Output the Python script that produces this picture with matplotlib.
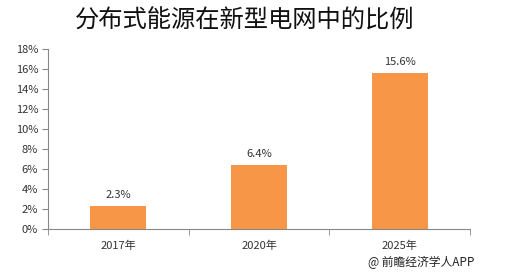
import matplotlib.pyplot as plt
import numpy as np

plt.rcParams['font.family'] = ['Noto Sans CJK SC', 'DejaVu Sans']

years = ['2017年', '2020年', '2025年']
shares = [2.3, 6.4, 15.6]
labels = ['2.3%', '6.4%', '15.6%']
yticks = [0, 2, 4, 6, 8, 10, 12, 14, 16, 18]

fig = plt.figure(figsize=(5.27, 2.72), dpi=100)
ax = fig.add_axes([0.091, 0.158, 0.801, 0.662])

x = np.arange(len(years))
ax.bar(x, shares, width=0.4, color='#F79646')
for xi, v, lab in zip(x, shares, labels):
    ax.text(xi, v + 0.6, lab, ha='center', va='bottom', fontsize=8, color='#333333')

ax.set_xlim(-0.5, len(years) - 0.5)
ax.set_ylim(0, 18)
ax.set_yticks(yticks)
ax.set_yticklabels([f'{t}%' for t in yticks], fontsize=8, color='#333333')
ax.set_xticks(x)
ax.set_xticklabels(years, fontsize=8, color='#333333')
ax.set_xticks(np.arange(len(years) + 1) - 0.5, minor=True)
ax.tick_params(axis='x', which='major', length=0, pad=8)
ax.tick_params(axis='x', which='minor', length=4, color='#888888')
ax.tick_params(axis='y', length=4, color='#888888', pad=3)
for s in ['top', 'right']:
    ax.spines[s].set_visible(False)
ax.spines['left'].set_color('#888888')
ax.spines['bottom'].set_color('#888888')

fig.text(0.465, 0.926, '分布式能源在新型电网中的比例', ha='center', va='center',
         fontsize=17.5, color='#111111')
fig.text(0.90, 0.035, '@ 前瞻经济学人APP', ha='right', va='center',
         fontsize=8.5, color='#222222')

fig.savefig('out.png', dpi=100)
